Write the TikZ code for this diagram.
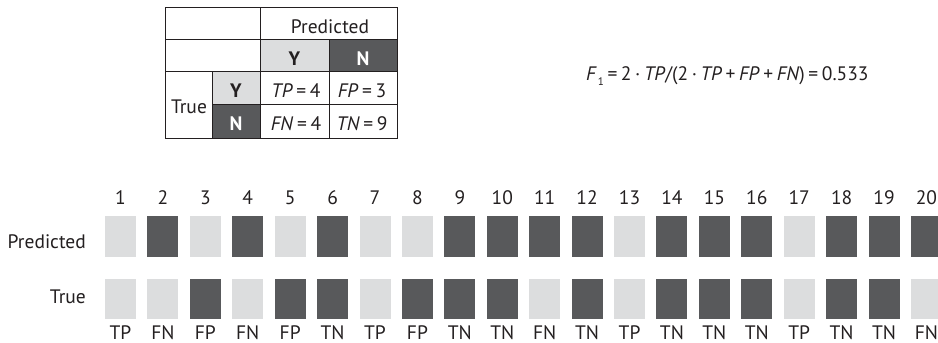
\documentclass[tikz,border=0pt]{standalone}
\usepackage{fontspec}
\setmainfont{PT Sans}
\definecolor{lightc}{HTML}{DCDDDE}
\definecolor{darkc}{HTML}{58595B}
\definecolor{inkc}{HTML}{231F20}
\newcommand\fsp{\hspace{3.6pt}}
\begin{document}
\begin{tikzpicture}[x=1pt,y=-1pt,
  every node/.style={font=\fontsize{19.5}{22}\selectfont, text=inkc},
  cell/.style={draw=inkc, line width=0.8pt, anchor=north west, inner sep=0pt},
  lcell/.style={cell, fill=lightc},
  dcell/.style={cell, fill=darkc},
  txt/.style={anchor=base, inner sep=0pt},
  btxt/.style={txt, font=\fontsize{19.5}{22}\selectfont\bfseries},
  bx/.style={minimum width=31pt, inner sep=0pt},
  lbx/.style={bx, fill=lightc},
  dbx/.style={bx, fill=darkc}]
\useasboundingbox (0,0) rectangle (938,343);
% confusion table cells
\node[cell, minimum width=95pt, minimum height=32pt] (e1) at (165,7) {};
\node[cell, minimum width=137pt, minimum height=32pt] (hp) at (260,7) {};
\node[cell, minimum width=95pt, minimum height=32pt] (e2) at (165,39) {};
\node[lcell, minimum width=69pt, minimum height=32pt] (hy) at (260,39) {};
\node[dcell, minimum width=68pt, minimum height=32pt] (hn) at (329,39) {};
\node[cell, minimum width=47pt, minimum height=67pt] (tr) at (165,71) {};
\node[lcell, minimum width=48pt, minimum height=33pt] (ty) at (212,71) {};
\node[dcell, minimum width=48pt, minimum height=34pt] (tn) at (212,104) {};
\node[cell, minimum width=69pt, minimum height=33pt] (ctp) at (260,71) {};
\node[cell, minimum width=68pt, minimum height=33pt] (cfp) at (329,71) {};
\node[cell, minimum width=69pt, minimum height=34pt] (cfn) at (260,104) {};
\node[cell, minimum width=68pt, minimum height=34pt] (ctn) at (329,104) {};
% table texts
\node[txt] (hpt) at (330,33) {Predicted};
\node[btxt] (hyt) at (294.5,65) {Y};
\node[btxt, text=white] (hnt) at (363,65) {N};
\node[txt] (trt) at (189,113) {True};
\node[btxt] (tyt) at (236,97) {Y};
\node[btxt, text=white] (tnt) at (236,130) {N};
\node[txt] (ctpt) at (296,97) {\textit{TP}\fsp=\fsp4};
\node[txt] (cfpt) at (362,97) {\textit{FP}\fsp=\fsp3};
\node[txt] (cfnt) at (296,130) {\textit{FN}\fsp=\fsp4};
\node[txt] (ctnt) at (362,130) {\textit{TN}\fsp=\fsp9};
% formula
\node[anchor=base west, inner sep=0pt] (f1) at (586,80) {\textit{F}\hspace{1pt}\raisebox{-5pt}{\fontsize{11}{12}\selectfont 1}\fsp=\fsp2\fsp·\fsp\textit{TP}/(2\fsp·\fsp\textit{TP}\fsp+\fsp\textit{FP}\fsp+\fsp\textit{FN})\fsp=\fsp0.533};
% row labels
\node[anchor=base east, inner sep=0pt] (lp) at (86,248) {Predicted};
\node[anchor=base east, inner sep=0pt] (lt) at (86,303) {True};
% sequence
\foreach \i/\p/\t/\lab in {1/l/l/TP,2/d/l/FN,3/l/d/FP,4/d/l/FN,5/l/d/FP,6/d/d/TN,7/l/l/TP,8/l/d/FP,9/d/d/TN,10/d/d/TN,11/d/l/FN,12/d/d/TN,13/l/l/TP,14/d/d/TN,15/d/d/TN,16/d/d/TN,17/l/l/TP,18/d/d/TN,19/d/d/TN,20/d/l/FN}{
  \node[txt] (n\i) at ({120.5+42.42*(\i-1)},204) {\i};
  \node[\p bx, minimum height=41pt] (p\i) at ({120.5+42.42*(\i-1)},236.5) {};
  \node[\t bx, minimum height=40pt] (t\i) at ({120.5+42.42*(\i-1)},299) {};
  \node[txt] (c\i) at ({120.5+42.42*(\i-1)},339) {\lab};
}
\end{tikzpicture}
\end{document}
